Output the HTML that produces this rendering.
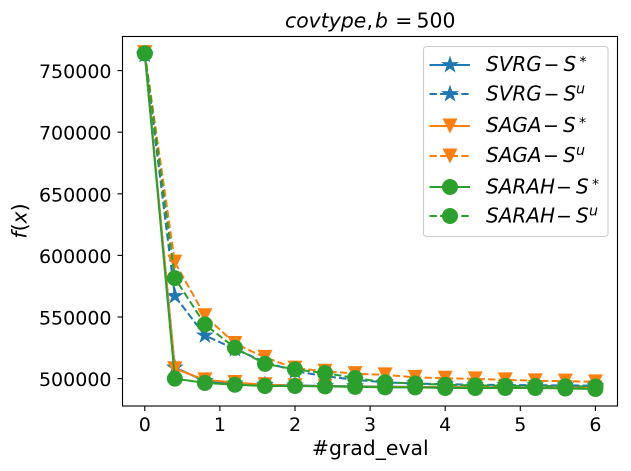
<!DOCTYPE html>
<html>
<head>
<meta charset="utf-8">
<title>covtype chart</title>
<style>
html,body{margin:0;padding:0;background:#fff;}
svg{display:block;}
text{font-family:"DejaVu Sans","Liberation Sans",sans-serif;fill:#000;font-size:20.4px;}
.i{font-style:italic;}
.lg{font-size:20px;}
.op{font-size:19px;}
.sup{font-size:14.3px;}
</style>
</head>
<body>
<svg id="chart" width="631" height="471" viewBox="0 0 631 471" xmlns="http://www.w3.org/2000/svg">
  <rect x="0" y="0" width="631" height="471" fill="#fff"/>
  <g id="series-layer"></g>
  <rect x="122.5" y="36.5" width="495" height="369.5" fill="none" stroke="#000" stroke-width="1.1"/>
  <g id="tick-layer"></g>

  <g>
    <text class="i" x="285" y="27.7">covtype</text>
    <text x="366.5" y="27.7">,</text>
    <text class="i" x="375" y="27.7">b</text>
    <text x="395.3" y="27.7">=</text>
    <text x="416.5" y="27.7">500</text>
  </g>
  <text x="370.3" y="455" text-anchor="middle">#grad_eval</text>
  <text transform="translate(26.5,221) rotate(-90)" text-anchor="middle"><tspan class="i">f</tspan>(<tspan class="i">x</tspan>)</text>

  <g>
    <rect x="423.5" y="46.5" width="184.5" height="190" rx="3" ry="3" fill="#fff" fill-opacity="0.8" stroke="#ccc" stroke-width="1.1"/>
    <g id="legend-keys"></g>
    <g>
      <text class="i lg" x="486" y="71">SVRG</text><text class="op" x="543.5" y="71">−</text><text class="i lg" x="563.5" y="71">S</text><text class="sup" x="579.5" y="66.3">*</text>
    </g>
    <g>
      <text class="i lg" x="486" y="100.5">SVRG</text><text class="op" x="543.5" y="100.5">−</text><text class="i lg" x="563.5" y="100.5">S</text><text class="sup i" x="576" y="93.7">u</text>
    </g>
    <g>
      <text class="i lg" x="486" y="132">SAGA</text><text class="op" x="543" y="132">−</text><text class="i lg" x="563" y="132">S</text><text class="sup" x="579" y="127.3">*</text>
    </g>
    <g>
      <text class="i lg" x="486" y="162">SAGA</text><text class="op" x="543" y="162">−</text><text class="i lg" x="563" y="162">S</text><text class="sup i" x="576" y="155.2">u</text>
    </g>
    <g>
      <text class="i lg" x="486" y="193.5">SARAH</text><text class="op" x="556" y="193.5">−</text><text class="i lg" x="576" y="193.5">S</text><text class="sup" x="592" y="188.8">*</text>
    </g>
    <g>
      <text class="i lg" x="486" y="222.5">SARAH</text><text class="op" x="556" y="222.5">−</text><text class="i lg" x="576" y="222.5">S</text><text class="sup i" x="589" y="215.7">u</text>
    </g>
  </g>
</svg>
<script>
const gradEval = [0, 0.4, 0.8, 1.2, 1.6, 2.0, 2.4, 2.8, 3.2, 3.6, 4.0, 4.4, 4.8, 5.2, 5.6, 6.0];
const xTickValues = [0, 1, 2, 3, 4, 5, 6];
const yTickValues = [500000, 550000, 600000, 650000, 700000, 750000];
const svrgStar = [763000, 509000, 498000, 496000, 495000, 494500, 494000, 493800, 493500, 493300, 493200, 493000, 493000, 492900, 492800, 492700];
const svrgU = [763000, 567000, 535000, 524000, 513500, 506000, 502000, 499000, 497000, 496000, 495400, 495000, 494800, 494600, 494500, 494300];
const sagaStar = [764500, 508000, 499000, 496800, 495000, 494200, 493800, 493500, 493300, 493100, 493000, 492900, 492800, 492700, 492600, 492500];
const sagaU = [764500, 594500, 551000, 528500, 517200, 508500, 506000, 504000, 503000, 501000, 500300, 499800, 499000, 498200, 498000, 497300];
const sarahStar = [764000, 500000, 496500, 495000, 494000, 494000, 493700, 493300, 492900, 492900, 492400, 492400, 492400, 492400, 492000, 491600];
const sarahU = [764000, 581600, 544000, 525000, 512000, 507500, 504500, 500500, 497000, 496000, 495000, 494500, 494200, 494000, 493800, 493600];

const NS = 'http://www.w3.org/2000/svg';
const seriesLayer = document.getElementById('series-layer');
const tickLayer = document.getElementById('tick-layer');
const legendKeys = document.getElementById('legend-keys');

function xScale(v) { return 144.8 + v * 75.1; }
function yScale(v) { return 378.6 - (v - 500000) * 0.001232; }

function makeEl(tag, attrs) {
  const el = document.createElementNS(NS, tag);
  for (const k in attrs) el.setAttribute(k, attrs[k]);
  return el;
}

function starPoints(cx, cy, r) {
  const pts = [];
  for (let i = 0; i < 10; i++) {
    const rad = i % 2 === 0 ? r : r * 0.381966;
    const a = -Math.PI / 2 + i * Math.PI / 5;
    pts.push((cx + rad * Math.cos(a)).toFixed(2) + ',' + (cy + rad * Math.sin(a)).toFixed(2));
  }
  return pts.join(' ');
}

function makeMarker(kind, cx, cy, color) {
  if (kind === 'star') {
    return makeEl('polygon', { points: starPoints(cx, cy, 7.8), fill: color, stroke: color, 'stroke-width': 1 });
  }
  if (kind === 'tri') {
    const s = 7.5;
    return makeEl('polygon', { points: (cx - s) + ',' + (cy - s) + ' ' + (cx + s) + ',' + (cy - s) + ' ' + cx + ',' + (cy + s), fill: color });
  }
  return makeEl('circle', { cx: cx, cy: cy, r: 8, fill: color });
}

function drawSeries(name, values, color, kind, dashed) {
  const g = makeEl('g', {});
  
  
  const pts = values.map((v, i) => xScale(gradEval[i]).toFixed(2) + ',' + yScale(v).toFixed(2)).join(' ');
  const line = makeEl('polyline', { points: pts, fill: 'none', stroke: color, 'stroke-width': 2, 'stroke-linejoin': 'round' });
  if (dashed) line.setAttribute('stroke-dasharray', '7.4 3.2');
  
  
  g.appendChild(line);
  values.forEach((v, i) => {
    const m = makeMarker(kind, xScale(gradEval[i]), yScale(v), color);
    
    
    g.appendChild(m);
  });
  seriesLayer.appendChild(g);
}

const BLUE = '#1f77b4', ORANGE = '#ff7f0e', GREEN = '#2ca02c';
drawSeries('series-svrg-star', svrgStar, BLUE, 'star', false);
drawSeries('series-svrg-u', svrgU, BLUE, 'star', true);
drawSeries('series-saga-star', sagaStar, ORANGE, 'tri', false);
drawSeries('series-saga-u', sagaU, ORANGE, 'tri', true);
drawSeries('series-sarah-star', sarahStar, GREEN, 'circle', false);
drawSeries('series-sarah-u', sarahU, GREEN, 'circle', true);

xTickValues.forEach(v => {
  const x = xScale(v);
  const t = makeEl('line', { x1: x, x2: x, y1: 406, y2: 411, stroke: '#000', 'stroke-width': 1.1 });
  
  
  tickLayer.appendChild(t);
  const lb = makeEl('text', { x: x, y: 431, 'text-anchor': 'middle', style: 'font-size:19px' });
  lb.textContent = String(v);
  
  
  tickLayer.appendChild(lb);
});

yTickValues.forEach(v => {
  const y = yScale(v);
  const t = makeEl('line', { x1: 117.5, x2: 122.5, y1: y, y2: y, stroke: '#000', 'stroke-width': 1.1 });
  
  
  tickLayer.appendChild(t);
  const lb = makeEl('text', { x: 111.5, y: y + 7.5, 'text-anchor': 'end', style: 'font-size:19px' });
  lb.textContent = String(v);
  
  
  tickLayer.appendChild(lb);
});

const legendRowY = [65, 94, 126, 156, 187, 216];
const legendColors = [BLUE, BLUE, ORANGE, ORANGE, GREEN, GREEN];
const legendKinds = ['star', 'star', 'tri', 'tri', 'circle', 'circle'];
const legendDashed = [false, true, false, true, false, true];
legendRowY.forEach((y, i) => {
  const ln = makeEl('line', { x1: 429.5, x2: 470, y1: y, y2: y, stroke: legendColors[i], 'stroke-width': 2 });
  if (legendDashed[i]) ln.setAttribute('stroke-dasharray', '7.4 3.2');
  
  
  legendKeys.appendChild(ln);
  const m = makeMarker(legendKinds[i], 450, y, legendColors[i]);
  
  
  legendKeys.appendChild(m);
});
</script>
</body>
</html>
